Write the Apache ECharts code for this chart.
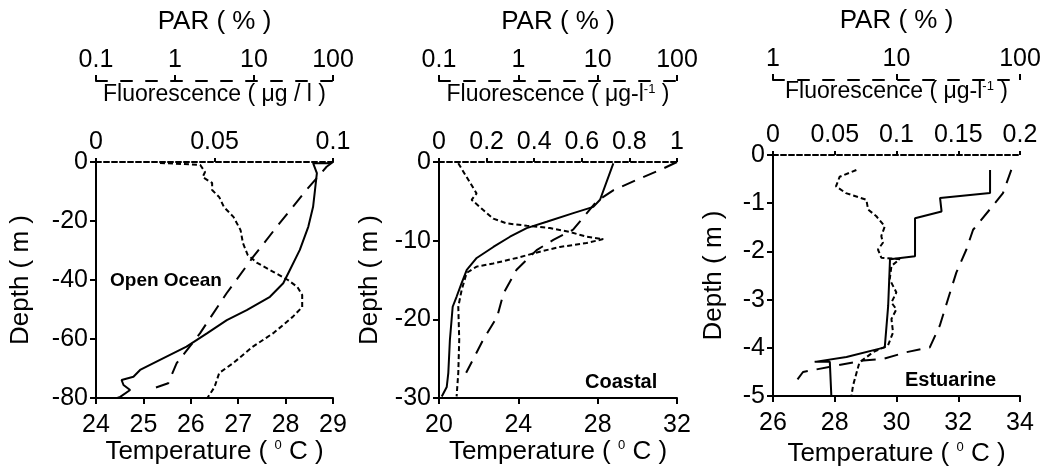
<!DOCTYPE html>
<html><head><meta charset="utf-8">
<script src="https://cdn.jsdelivr.net/npm/echarts@6/dist/echarts.min.js"></script>
<style>html,body{margin:0;padding:0;background:#fff}#c{width:1052px;height:472px}</style>
</head><body><div id="c"></div>
<script>
// ---- Data: pairs are [value, depth] ----
var panelNames = ['Open Ocean', 'Coastal', 'Estuarine'];

// Open Ocean
var ooTemp = [[28.94,-0.4],[28.58,-0.4],[28.66,-3.8],[28.62,-9.5],[28.58,-15.2],[28.48,-21.9],[28.30,-29.8],[28.09,-36.6],[27.95,-41.1],[27.67,-45.7],[27.18,-50.2],[26.76,-53.6],[26.34,-58.1],[25.91,-62.6],[25.35,-67.1],[24.93,-70.5],[24.79,-72.8],[24.54,-73.9],[24.58,-75.6],[24.72,-77.3],[24.51,-79.6],[24.45,-80]];
var ooFluor = [[0.027,-0.3],[0.044,-1],[0.046,-3.4],[0.045,-5.1],[0.049,-7.1],[0.049,-9.5],[0.052,-11.9],[0.054,-15.3],[0.058,-18.6],[0.061,-23.1],[0.062,-27.5],[0.064,-31.5],[0.068,-34.2],[0.075,-37.3],[0.081,-40],[0.085,-42.4],[0.087,-45.1],[0.087,-49.2],[0.083,-52.5],[0.075,-57.9],[0.066,-62.7],[0.058,-68.1],[0.052,-71.5],[0.050,-76.3],[0.047,-80]];
var ooPAR = [[100,0],[83,-1.6],[46,-9.5],[21,-20.8],[9.8,-32.1],[4.5,-44.5],[2.07,-58.1],[1.05,-68.2],[0.82,-75],[0.46,-77.3]];

// Coastal
var coTemp = [[28.79,-0.17],[28.12,-4.8],[27.78,-5.7],[26.77,-6.5],[25.43,-7.6],[24.42,-8.4],[23.58,-9.5],[22.74,-10.8],[21.9,-12.2],[21.40,-13.7],[21.14,-15.4],[20.89,-17.1],[20.69,-18.4],[20.55,-22.6],[20.47,-26.8],[20.39,-28.6],[20.14,-29.8]];
var coFluor = [[0.081,-0.17],[0.116,-1.9],[0.158,-4],[0.137,-4.8],[0.186,-6.1],[0.228,-7.2],[0.284,-7.8],[0.369,-8.1],[0.466,-8.4],[0.55,-8.9],[0.62,-9.5],[0.69,-9.8],[0.62,-10.3],[0.508,-10.8],[0.424,-11.4],[0.326,-12.2],[0.228,-12.9],[0.158,-13.3],[0.116,-14.1],[0.095,-16.3],[0.081,-18.4],[0.085,-22.6],[0.081,-26.8],[0.074,-29.8]];
var coPAR = [[100,0],[68,-0.8],[34,-2.1],[15.7,-3.6],[9.7,-5],[4.9,-8.6],[2.76,-9.9],[1.7,-11.2],[0.95,-13.7],[0.65,-16.7],[0.54,-19.7],[0.36,-22.6],[0.22,-26.8]];

// Estuarine
var esTemp = [[33.03,-0.31],[33.03,-0.79],[31.41,-0.89],[31.46,-1.17],[30.60,-1.31],[30.60,-2.10],[29.79,-2.16],[29.73,-3.13],[29.62,-3.99],[28.38,-4.19],[27.35,-4.29],[27.84,-4.29],[27.89,-5]];
var esFluor = [[0.0675,-0.31],[0.054,-0.45],[0.051,-0.65],[0.059,-0.79],[0.0756,-0.93],[0.077,-1.13],[0.0837,-1.27],[0.0905,-1.48],[0.0877,-1.68],[0.089,-1.82],[0.085,-1.96],[0.0877,-2.13],[0.1026,-2.16],[0.0959,-2.30],[0.0945,-2.58],[0.0999,-2.85],[0.0959,-3.06],[0.0999,-3.20],[0.0959,-3.40],[0.0972,-3.68],[0.0931,-3.95],[0.081,-4.09],[0.070,-4.30],[0.0648,-4.78],[0.0635,-5]];
var esPAR = [[85,-0.31],[72.8,-0.79],[56.9,-1.13],[41.7,-1.55],[36.8,-1.96],[30.5,-2.44],[26.1,-2.99],[22.4,-3.54],[18.6,-3.99],[12,-4.09],[7.8,-4.23],[5.4,-4.26],[1.75,-4.5],[1.45,-4.78]];

// ---- Layout / styling ----
var FF = 'Liberation Sans, Arial, sans-serif';
var NAME = 26, FNAME = 23, LBL = 25;
var panels = [
  {grid:{left:96,right:719,top:162,bottom:74}, t:[24,29,1], f:[0,0.1,0.05], p:[0.1,100], pOff:81,
   d:[-80,20], dGap:62, fGap:56, fName:'Fluorescence ( μg / l )', temp:ooTemp, fluor:ooFluor, par:ooPAR,
   label:{left:110,top:271,size:19}},
  {grid:{left:439,right:375,top:162,bottom:74}, t:[20,32,4], f:[0,1,0.2], p:[0.1,100], pOff:81,
   d:[-30,10], dGap:56, fGap:56, fName:'Fluorescence ( μg-l{s|-1} )', temp:coTemp, fluor:coFluor, par:coPAR,
   label:{left:585,top:372,size:20}},
  {grid:{left:773,right:32,top:155,bottom:75}, t:[26,34,2], f:[0,0.2,0.05], p:[1,100], pOff:75,
   d:[-5,1], dGap:46, fGap:52, fName:'Fluorescence ( μg-l{s|-1} )', temp:esTemp, fluor:esFluor, par:esPAR,
   label:{left:905,top:370,size:20}}
];

var rich = {s:{fontSize:13, fontFamily:FF, color:'#000', verticalAlign:'top', padding:[0,0,10,0]}};
var grids = [], xAxes = [], yAxes = [], series = [], titles = [];
panels.forEach(function(P, i){
  grids.push(P.grid);
  var base = xAxes.length;
  // temperature (bottom)
  xAxes.push({gridIndex:i, type:'value', position:'bottom', min:P.t[0], max:P.t[1], interval:P.t[2],
    name:'Temperature ( {s|0} C )', nameLocation:'middle', nameGap:38,
    nameTextStyle:{fontSize:NAME, fontFamily:FF, color:'#000', rich:rich},
    axisLine:{onZero:false, lineStyle:{color:'#000', width:2}},
    axisTick:{length:6, lineStyle:{color:'#000', width:2}},
    axisLabel:{fontSize:LBL, fontFamily:FF, color:'#000', margin:15},
    splitLine:{show:false}});
  // fluorescence (top)
  xAxes.push({gridIndex:i, type:'value', position:'top', min:P.f[0], max:P.f[1], interval:P.f[2],
    name:P.fName, nameLocation:'middle', nameGap:P.fGap,
    nameTextStyle:{fontSize:FNAME, fontFamily:FF, color:'#000', rich:rich},
    axisLine:{onZero:false, lineStyle:{color:'#000', width:2, type:[5,3]}},
    axisTick:{length:4, lineStyle:{color:'#000', width:2}},
    axisLabel:{fontSize:LBL, fontFamily:FF, color:'#000', margin:7},
    splitLine:{show:false}});
  // PAR (top, log)
  xAxes.push({gridIndex:i, type:'log', logBase:10, position:'top', offset:P.pOff, min:P.p[0], max:P.p[1],
    name:'PAR ( % )', nameLocation:'middle', nameGap:46,
    nameTextStyle:{fontSize:NAME, fontFamily:FF, color:'#000'},
    axisLine:{onZero:false, lineStyle:{color:'#000', width:2, type:[11,14]}},
    axisTick:{length:6, lineStyle:{color:'#000', width:2}},
    axisLabel:{fontSize:LBL, fontFamily:FF, color:'#000', margin:8,
      formatter:function(v){ return String(+v.toPrecision(3)); }},
    minorTick:{show:false}, splitLine:{show:false}});
  yAxes.push({gridIndex:i, type:'value', min:P.d[0], max:0, interval:P.d[1],
    name:'Depth ( m )', nameLocation:'middle', nameGap:P.dGap,
    nameTextStyle:{fontSize:NAME, fontFamily:FF, color:'#000'},
    axisLine:{onZero:false, lineStyle:{color:'#000', width:2}},
    axisTick:{length:6, lineStyle:{color:'#000', width:2}},
    axisLabel:{fontSize:LBL, fontFamily:FF, color:'#000', margin:8},
    splitLine:{show:false}});
  var common = {type:'line', yAxisIndex:i, showSymbol:false, symbol:'none', animation:false};
  series.push(Object.assign({}, common, {name:'Temperature', xAxisIndex:base, data:P.temp,
    lineStyle:{color:'#000', width:2, type:'solid'}}));
  series.push(Object.assign({}, common, {name:'Fluorescence', xAxisIndex:base+1, data:P.fluor,
    lineStyle:{color:'#000', width:2, type:[5,3]}}));
  series.push(Object.assign({}, common, {name:'PAR', xAxisIndex:base+2, data:P.par,
    lineStyle:{color:'#000', width:2, type:[14,9]}}));
  titles.push({text:panelNames[i], left:P.label.left, top:P.label.top, padding:0,
    textStyle:{fontSize:P.label.size, fontWeight:'bold', fontFamily:FF, color:'#000'}});
});

var chart = echarts.init(document.getElementById('c'), null, {renderer:'canvas'});
chart.setOption({
  animation:false, backgroundColor:'#fff',
  title:titles, grid:grids, xAxis:xAxes, yAxis:yAxes, series:series
});
</script></body></html>
